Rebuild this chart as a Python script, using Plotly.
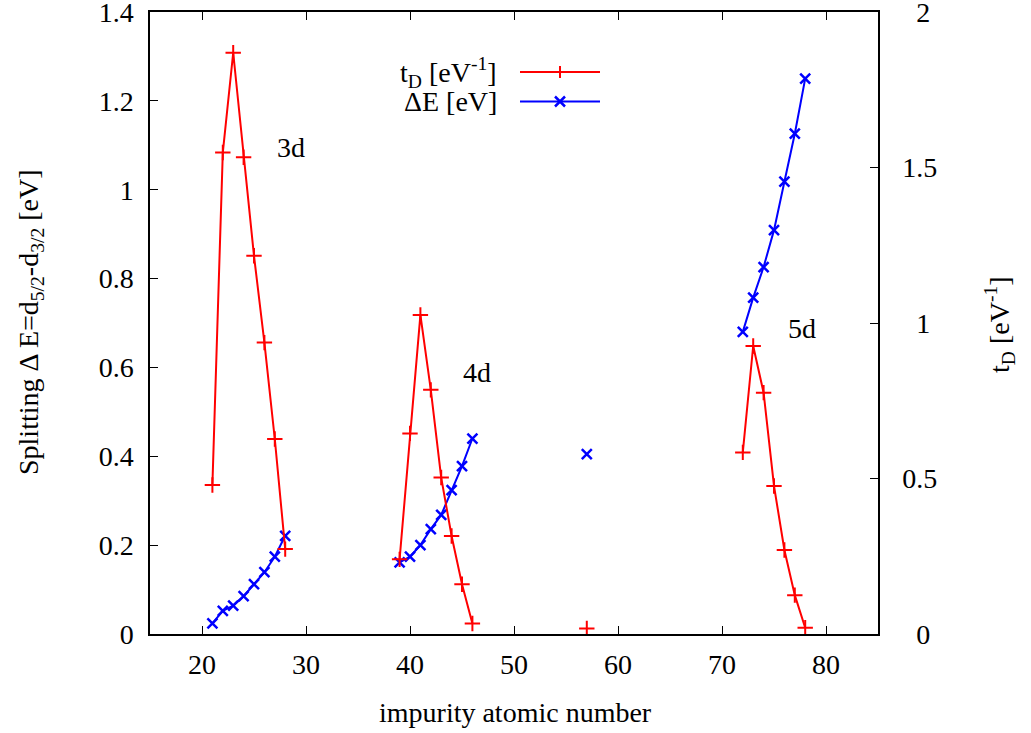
import plotly.graph_objects as go

# impurity atomic numbers (None separates the 3d / 4d / 5d groups)
z_td = [21, 22, 23, 24, 25, 26, 27, 28, None,
        39, 40, 41, 42, 43, 44, 45, 46, None,
        57, None,
        72, 73, 74, 75, 76, 77, 78]
t_d = [0.479, 1.548, 1.869, 1.533, 1.216, 0.937, 0.627, 0.273, None,
       0.240, 0.645, 1.026, 0.785, 0.503, 0.315, 0.160, 0.034, None,
       0.018, None,
       0.584, 0.926, 0.776, 0.476, 0.270, 0.125, 0.020]

z_de = z_td
delta_e = [0.024, 0.052, 0.064, 0.085, 0.112, 0.139, 0.174, 0.221, None,
           0.161, 0.174, 0.200, 0.236, 0.268, 0.324, 0.378, 0.440, None,
           0.405, None,
           0.680, 0.757, 0.826, 0.909, 1.018, 1.126, 1.250]

x_ticks = [20, 30, 40, 50, 60, 70, 80]
y_ticks = [0, 0.2, 0.4, 0.6, 0.8, 1, 1.2, 1.4]
y_tick_text = ["0", "0.2", "0.4", "0.6", "0.8", "1", "1.2", "1.4"]
y2_ticks = [0, 0.5, 1, 1.5, 2]
y2_tick_text = ["\u20070", "0.5", "\u20071", "1.5", "\u20072"]

labels = ["3d", "4d", "5d"]
label_x = [27.0, 44.9, 76.2]
label_y = [1.096, 0.589, 0.688]

FONT = "Liberation Serif"
FS = 28
RED = "#ff0000"
BLUE = "#0000ff"

fig = go.Figure()
fig.add_trace(go.Scatter(
    x=z_td, y=t_d, yaxis="y2", mode="lines+markers", name="tD",
    line=dict(color=RED, width=2),
    marker=dict(symbol="cross-thin", size=11, line=dict(color=RED, width=2)),
    connectgaps=False, showlegend=False))
fig.add_trace(go.Scatter(
    x=z_de, y=delta_e, yaxis="y", mode="lines+markers", name="dE",
    line=dict(color=BLUE, width=2),
    marker=dict(symbol="x-thin", size=10, line=dict(color=BLUE, width=2.5)),
    connectgaps=False, showlegend=False))

axis_common = dict(ticks="inside", ticklen=8, tickwidth=1.2, tickcolor="black",
                   showline=True, linecolor="black", linewidth=1.5,
                   showgrid=False, zeroline=False, automargin=False,
                   ticklabeloverflow="allow",
                   tickfont=dict(family=FONT, size=FS, color="black"))

fig.update_layout(
    width=1031, height=733,
    margin=dict(l=150, r=153, t=12, b=99),
    plot_bgcolor="white", paper_bgcolor="white",
    font=dict(family=FONT, size=FS, color="black"),
    xaxis=dict(range=[15, 85], tickvals=x_ticks, mirror="ticks",
               ticklabelstandoff=5, **axis_common),
    yaxis=dict(range=[0, 1.4], tickvals=y_ticks, ticktext=y_tick_text,
               ticklabelstandoff=9, **axis_common),
    yaxis2=dict(range=[0, 2], tickvals=y2_ticks, ticktext=y2_tick_text,
                overlaying="y", side="right", ticklabelstandoff=17,
                **axis_common),
)

# axis titles
fig.add_annotation(x=(515 - 150) / 728, y=(634 - 712) / 622, xref="paper", yref="paper",
                   text="impurity atomic number", showarrow=False,
                   xanchor="center", yanchor="middle")
fig.add_annotation(x=(30 - 150) / 728, y=(634 - 322) / 622, xref="paper", yref="paper",
                   text="Splitting Δ E=d<sub>5/2</sub>-d<sub>3/2</sub> [eV]", showarrow=False,
                   textangle=-90, xanchor="center", yanchor="middle")
fig.add_annotation(x=(999 - 150) / 728, y=(634 - 325) / 622, xref="paper", yref="paper",
                   text="t<sub>D</sub> [eV<sup>-1</sup>]", showarrow=False,
                   textangle=-90, xanchor="center", yanchor="middle")

for t, lx, ly in zip(labels, label_x, label_y):
    fig.add_annotation(x=lx, y=ly, xref="x", yref="y", text=t, showarrow=False,
                       xanchor="left", yanchor="middle",
                       font=dict(family=FONT, size=FS, color="black"))

# custom gnuplot-style legend (text left of sample)
leg_text = ["t<sub>D</sub> [eV<sup>-1</sup>]", "ΔE [eV]"]
leg_col = [RED, BLUE]
leg_py = [72, 101.5]
x0p, x1p, xm = (520 - 150) / 728, (600 - 150) / 728, (560 - 150) / 728
for i in range(2):
    yp = (634 - leg_py[i]) / 622
    fig.add_annotation(x=(499 - 150) / 728, y=yp, xref="paper", yref="paper",
                       text=leg_text[i], showarrow=False, xanchor="right",
                       yanchor="middle", font=dict(family=FONT, size=FS, color="black"))
    fig.add_shape(type="line", xref="paper", yref="paper", x0=x0p, x1=x1p,
                  y0=yp, y1=yp, line=dict(color=leg_col[i], width=2))
    dx = 5 / 728
    dy = 5 / 622
    if i == 0:
        fig.add_shape(type="line", xref="paper", yref="paper", x0=xm, x1=xm,
                      y0=yp - dy * 1.2, y1=yp + dy * 1.2, line=dict(color=RED, width=2))
    else:
        fig.add_shape(type="line", xref="paper", yref="paper", x0=xm - dx, x1=xm + dx,
                      y0=yp - dy, y1=yp + dy, line=dict(color=BLUE, width=2.5))
        fig.add_shape(type="line", xref="paper", yref="paper", x0=xm - dx, x1=xm + dx,
                      y0=yp + dy, y1=yp - dy, line=dict(color=BLUE, width=2.5))

fig.write_html("out.html")
